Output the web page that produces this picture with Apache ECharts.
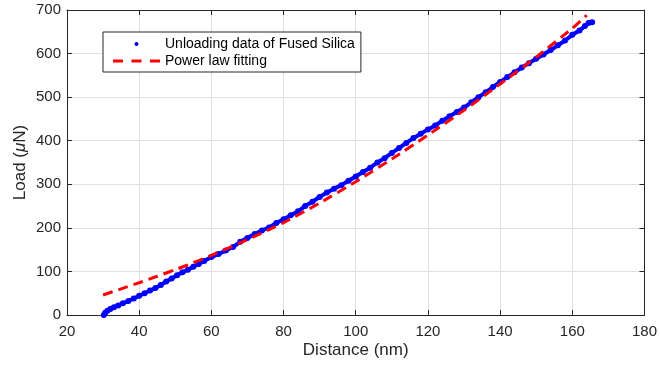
<!DOCTYPE html>
<html>
<head>
<meta charset="utf-8">
<script src="https://cdn.jsdelivr.net/npm/echarts@6/dist/echarts.min.js"></script>
<style>
html,body{margin:0;padding:0;background:#fff;}
#chart{width:660px;height:366px;}
</style>
</head>
<body>
<div id="chart"></div>
<script>
// Unloading data of Fused Silica (distance nm, load µN)
var unloadX = [30.2, 30.6, 31.2, 32, 33, 34.2, 35.5, 37, 38.5, 40, 41.5, 43, 44.5, 46, 47.5, 49, 50.5, 52, 53.5, 55, 56.5, 58, 60, 62, 64, 66, 68, 70, 72, 74, 76, 78, 80, 82, 84, 86, 88, 90, 92, 94, 96, 98, 100, 102, 104, 106, 108, 110, 112, 114, 116, 118, 120, 122, 124, 126, 128, 130, 132, 134, 136, 138, 140, 142, 144, 146, 148, 150, 152, 154, 156, 158, 160, 162, 163.5, 164.5, 165.5];
var unloadY = [0, 5, 10, 14, 18, 22, 27, 32, 38, 44, 50, 56, 62, 69, 77, 84, 91, 98, 104, 111, 117, 124, 133, 140, 148, 156, 168, 177, 186, 194, 201, 211, 220, 229, 238, 250, 260, 271, 281, 290, 298, 308, 318, 328, 338, 350, 360, 372, 383, 395, 406, 416, 426, 435, 446, 456, 466, 476, 488, 500, 511, 523, 535, 546, 557, 568, 578, 588, 598, 608, 619, 630, 643, 653, 663, 670, 672];
// Power law fitting
var fitX = [30, 35, 40, 45, 50, 55, 60, 70, 80, 90, 100, 110, 120, 130, 140, 150, 160, 164];
var fitY = [46, 60, 74, 89, 104, 120, 137, 173, 212, 257, 306, 358, 413, 470, 530, 592, 658, 688];
// Axis ticks
var xMin = 20, xMax = 180, xStep = 20;
var yMin = 0, yMax = 700, yStep = 100;
var seriesNames = ['Unloading data of Fused Silica', 'Power law fitting'];

var FONT = "'Liberation Sans', Arial, Helvetica, sans-serif";
var INK = '#262626';
var GRIDC = '#e0e0e0';

function pairs(xs, ys) { return xs.map(function (x, i) { return [x, ys[i]]; }); }

var chart = echarts.init(document.getElementById('chart'), null, { renderer: 'canvas' });
var axisCommon = {
  type: 'value',
  axisLine: { show: true, onZero: false, lineStyle: { color: INK, width: 1 } },
  axisTick: { show: true, inside: true, length: 5, lineStyle: { color: INK, width: 1 } }
};
chart.setOption({
  backgroundColor: '#ffffff',
  animation: false,
  textStyle: { fontFamily: FONT },
  grid: { left: 67, right: 11, top: 10, bottom: 51, containLabel: false },
  legend: {
    orient: 'vertical',
    left: 103, top: 32,
    padding: [5, 6, 4, 10],
    itemGap: 3,
    itemWidth: 47, itemHeight: 14,
    backgroundColor: '#ffffff',
    borderColor: INK, borderWidth: 1, borderRadius: 0,
    textStyle: { fontFamily: FONT, fontSize: 14, color: '#000', padding: [0, 0, 0, 0] },
    data: [
      { name: seriesNames[0], icon: 'path://M0,0M47,14M21.5,7a2,2 0 1,0 4,0a2,2 0 1,0 -4,0z' },
      { name: seriesNames[1], icon: 'path://M0,0M47,14M0,5.5h10v3h-10zM18.5,5.5h10v3h-10zM37,5.5h10v3h-10z' }
    ]
  },
  xAxis: [
    Object.assign({}, axisCommon, {
      position: 'bottom', min: xMin, max: xMax, interval: xStep,
      axisLabel: { fontSize: 15, color: INK, margin: 9, fontFamily: FONT },
      splitLine: { show: true, lineStyle: { color: GRIDC, width: 1 } },
      name: 'Distance (nm)', nameLocation: 'middle', nameGap: 27, nameMoveOverlap: false,
      nameTextStyle: { fontSize: 17, color: INK, fontFamily: FONT }
    }),
    Object.assign({}, axisCommon, {
      position: 'top', min: xMin, max: xMax, interval: xStep,
      axisLabel: { show: false }, splitLine: { show: false }
    })
  ],
  yAxis: [
    Object.assign({}, axisCommon, {
      position: 'left', min: yMin, max: yMax, interval: yStep,
      axisLabel: { fontSize: 15, color: INK, margin: 6, fontFamily: FONT },
      splitLine: { show: true, lineStyle: { color: GRIDC, width: 1 } },
      name: 'Load ({i|μ}N)', nameLocation: 'middle', nameGap: 38, nameMoveOverlap: false,
      nameTextStyle: {
        fontSize: 17, color: INK, fontFamily: FONT,
        rich: { i: { fontSize: 17, fontStyle: 'italic', color: INK, fontFamily: FONT } }
      }
    }),
    Object.assign({}, axisCommon, {
      position: 'right', min: yMin, max: yMax, interval: yStep,
      axisLabel: { show: false }, splitLine: { show: false }
    })
  ],
  series: [
    {
      name: seriesNames[0], type: 'line', xAxisIndex: 0, yAxisIndex: 0,
      data: pairs(unloadX, unloadY),
      showSymbol: true, symbol: 'circle', symbolSize: 6,
      itemStyle: { color: '#0000ff' },
      lineStyle: { color: '#0000ff', width: 4 },
      z: 2
    },
    {
      name: seriesNames[1], type: 'line', xAxisIndex: 0, yAxisIndex: 0,
      data: pairs(fitX, fitY),
      showSymbol: false, symbol: 'none', smooth: 0.2,
      itemStyle: { color: '#ff0000' },
      lineStyle: { color: '#ff0000', width: 3, type: [10, 6] },
      z: 3
    }
  ]
});
</script>
</body>
</html>
